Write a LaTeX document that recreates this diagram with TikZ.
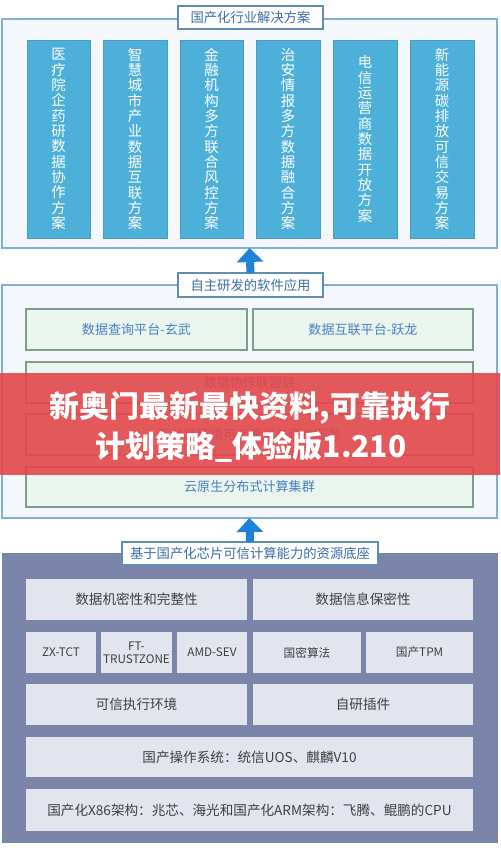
\documentclass[tikz,border=0pt]{standalone}
\usepackage{fontspec}
\setmainfont{Noto Sans CJK SC}
\usetikzlibrary{arrows.meta}
\definecolor{panelbg}{HTML}{F4F8FC}
\definecolor{panelborder}{HTML}{7EB0DC}
\definecolor{titleborder}{HTML}{5F8DB5}
\definecolor{titletext}{HTML}{3B6EA5}
\definecolor{colfill}{HTML}{4DB0D8}
\definecolor{colborder}{HTML}{4A9CC4}
\definecolor{greenfill}{HTML}{EAF5EE}
\definecolor{greenborder}{HTML}{7D9E8C}
\definecolor{greentext}{HTML}{4A80C0}
\definecolor{darkbg}{HTML}{7A85A9}
\definecolor{greybox}{HTML}{E3E5EE}
\definecolor{greytext}{HTML}{404040}
\definecolor{arrowblue}{HTML}{1E82D9}
\definecolor{bannerred}{HTML}{E3474B}
\newcommand\bxn[7]{\node[#1, minimum width={(#5-#3)*0.75pt}, minimum height={(#6-#4)*0.75pt}] (#2) at ({(#3+#5)/2},{(#4+#6)/2}) {#7};}
\tikzset{
  base/.style={inner sep=0pt, outer sep=0pt},
  panel/.style={base, draw=panelborder, fill=panelbg, line width=0.9pt},
  darkpanel/.style={base, fill=darkbg},
  ttl/.style={base, draw=titleborder, fill=white, line width=1pt, text=titletext, font=\fontsize{10}{12}\selectfont},
  col/.style={base, fill=colfill, draw=colborder, line width=0.6pt, text=white, align=center, font=\fontsize{10.8}{11.5}\selectfont},
  gbox/.style={base, fill=greenfill, draw=greenborder, line width=0.8pt, text=greentext, font=\fontsize{9.8}{11}\selectfont},
  sbox/.style={base, fill=greybox, text=greytext, align=center, font=\fontsize{10.2}{12}\selectfont},
  smallbox/.style={sbox, font=\fontsize{8.8}{10}\selectfont},
  up/.style={-{Triangle[width=19.5pt,length=10.5pt]}, line width=6pt, draw=arrowblue},
  bannerbox/.style={base, fill=bannerred, fill opacity=0.9},
  bannertext/.style={base, text=white, font=\fontsize{22.5}{26}\selectfont\bfseries}
}
\begin{document}
\begin{tikzpicture}[x=0.75pt, y=-0.75pt]
\useasboundingbox (0,0) rectangle (500,850);
\fill[white] (0,0) rectangle (500,850);
% top panel
\bxn{panel}{p1}{2}{19}{497}{248}{}
\bxn{ttl}{t1}{178}{6}{323}{29}{国产化行业解决方案}
\bxn{col}{c1}{27}{40}{90}{238}{医\\疗\\院\\企\\药\\研\\数\\据\\协\\作\\方\\案}
\bxn{col}{c2}{103}{40}{167}{238}{智\\慧\\城\\市\\产\\业\\数\\据\\互\\联\\方\\案}
\bxn{col}{c3}{180}{40}{243}{238}{金\\融\\机\\构\\多\\方\\联\\合\\风\\控\\方\\案}
\bxn{col}{c4}{256}{40}{320}{238}{治\\安\\情\\报\\多\\方\\数\\据\\融\\合\\方\\案}
\bxn{col}{c5}{333}{40}{397}{238}{电\\信\\运\\营\\商\\数\\据\\开\\放\\方\\案}
\bxn{col}{c6}{410}{40}{474}{238}{新\\能\\源\\碳\\排\\放\\可\\信\\交\\易\\方\\案}
% middle panel
\bxn{panel}{p2}{2}{285}{497}{518}{}
\bxn{ttl}{t2}{178}{273}{323}{297}{自主研发的软件应用}
\bxn{gbox}{m1}{26}{309}{247}{350}{数据查询平台-玄武}
\bxn{gbox}{m2}{253}{309}{473}{350}{数据互联平台-跃龙}
\bxn{gbox}{m3}{26}{362}{473}{403}{数据协作联盟链}
\bxn{gbox}{m4}{26}{414}{473}{455}{云计算环境可信度量与评估服务}
\bxn{gbox}{m5}{26}{467}{473}{507}{云原生分布式计算集群}
% bottom panel
\bxn{darkpanel}{p3}{2}{553}{498}{843}{}
\bxn{ttl}{t3}{122}{542}{378}{565}{基于国产化芯片可信计算能力的资源底座}
\bxn{sbox}{b1}{26}{579}{247}{620}{数据机密性和完整性}
\bxn{sbox}{b2}{253}{579}{473}{620}{数据信息保密性}
\bxn{smallbox}{b3}{26}{632}{96}{673}{ZX-TCT}
\bxn{smallbox}{b4}{101}{632}{172}{673}{FT-\\TRUSTZONE}
\bxn{smallbox}{b5}{177}{632}{247}{673}{AMD-SEV}
\bxn{smallbox}{b6}{253}{632}{361}{673}{国密算法}
\bxn{smallbox}{b7}{366}{632}{473}{673}{国产TPM}
\bxn{sbox}{b8}{26}{684}{247}{725}{可信执行环境}
\bxn{sbox}{b9}{253}{684}{473}{725}{自研插件}
\bxn{sbox}{b10}{26}{737}{473}{777}{国产操作系统：统信UOS、麒麟V10}
\bxn{sbox}{b11}{26}{789}{473}{831}{国产化X86架构：兆芯、海光和国产化ARM架构：飞腾、鲲鹏的CPU}
% arrows
\draw[up] (t2.north) -- (p1.south);
\draw[up] (t3.north) -- (p2.south);
% banner
\bxn{bannerbox}{bn}{0}{373}{500}{475}{}
\node[bannertext] (bt1) at (250,408) {新奥门最新最快资料,可靠执行};
\node[bannertext] (bt2) at (251,447) {计划策略\_体验版1.210};
\end{tikzpicture}
\end{document}
